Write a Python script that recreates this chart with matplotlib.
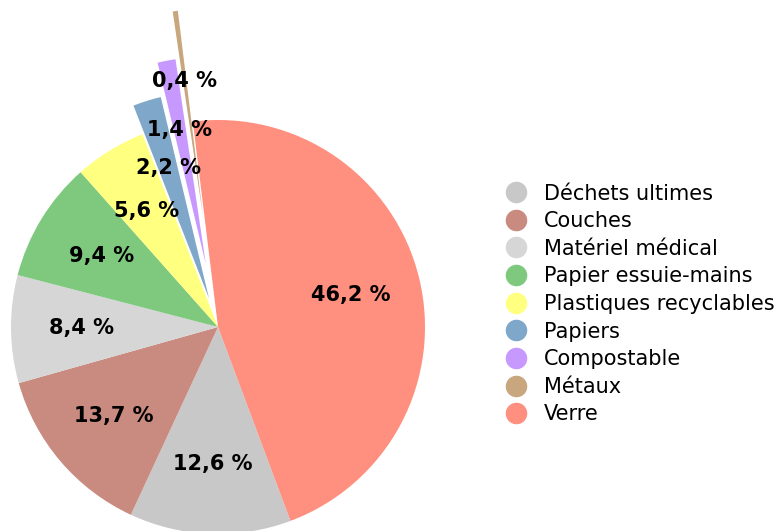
import matplotlib.pyplot as plt
from matplotlib.lines import Line2D

# waste composition (%), order as in the legend
categories = ["Déchets ultimes", "Couches", "Matériel médical", "Papier essuie-mains",
              "Plastiques recyclables", "Papiers", "Compostable", "Métaux", "Verre"]
values = [12.6, 13.7, 8.4, 9.4, 5.6, 2.2, 1.4, 0.4, 46.2]
colors = ["#c8c8c8", "#c98a80", "#d6d6d6", "#7fc97f", "#ffff80",
          "#7fa7c9", "#c799ff", "#c8a67e", "#ff8f7e"]
explode = [0, 0, 0, 0, 0, 0.145, 0.31, 0.54, 0]

W, H = 780, 531
fig = plt.figure(figsize=(W / 100, H / 100), dpi=100)
ax = fig.add_axes([0, 0, 1, 1])

labels_iter = iter(values)


def fmt(_):
    return f"{next(labels_iter):.1f}".replace(".", ",") + " %"


ax.pie(values, colors=colors, explode=explode, startangle=-69.5, counterclock=False,
       autopct=fmt, pctdistance=0.66,
       textprops=dict(fontsize=15, fontweight="bold", color="black"))

# pie center at (218, 327) px, radius 207 px
cx, cy, r = 218, H - 327, 207
ax.set_aspect("auto")
ax.set_xlim(-cx / r, (W - cx) / r)
ax.set_ylim(-cy / r, (H - cy) / r)
ax.axis("off")

handles = [Line2D([], [], marker="o", linestyle="", markersize=14.5,
                  markerfacecolor=c, markeredgecolor=c) for c in colors]
fig.legend(handles, categories, loc="center left", bbox_to_anchor=(0.638, 0.4275),
           frameon=False, fontsize=15, handletextpad=0.82, labelspacing=0.365,
           handlelength=1.0, borderaxespad=0)

fig.savefig("out.png", dpi=100)
